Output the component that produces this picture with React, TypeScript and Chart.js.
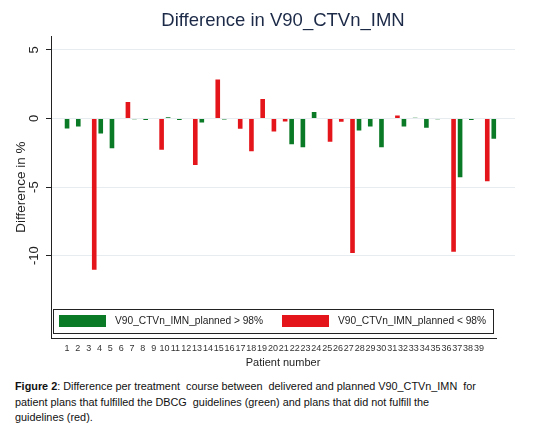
import React, { useEffect, useRef } from 'react';
import { Chart, registerables } from 'chart.js';

Chart.register(...registerables);

// patient numbers on the x axis
const patients = [
  1, 2, 3, 4, 5, 6, 7, 8, 9, 10, 11, 12, 13, 14, 15, 16, 17, 18, 19, 20,
  21, 22, 23, 24, 25, 26, 27, 28, 29, 30, 31, 32, 33, 34, 35, 36, 37, 38, 39,
];

// difference in % (delivered - planned); null where the patient is in the other group
const abovePlanned = [
  -0.72, -0.58, null, -1.09, -2.17, null, -0.06, -0.1, null, 0.1,
  -0.1, null, -0.29, null, -0.08, null, null, null, null, null,
  -1.88, -2.1, 0.48, null, null, null, -0.87, -0.58, -2.1, null,
  -0.58, 0.05, -0.68, -0.06, null, -4.29, -0.1, null, -1.47,
];
const belowPlanned = [
  null, null, -11.03, null, null, 1.21, null, null, -2.27, null,
  null, -3.38, null, 2.85, null, -0.75, -2.39, 1.43, -0.94, -0.22,
  null, null, null, -1.69, -0.24, -9.8, null, null, null, 0.22,
  null, null, null, null, -9.72, null, null, -4.58, null,
];

const yTicks = [-10, -5, 0, 5];

const GREEN = '#0b7a26';
const RED = '#e4161c';
const FONT = '"Liberation Sans", Arial, sans-serif';

const toPoints = (values: (number | null)[]) =>
  patients
    .map((p, i) => ({ x: p, y: values[i] }))
    .filter((d) => d.y !== null);

// Stata style legend box drawn inside the plot region
const legendBox = {
  id: 'legendBox',
  afterDraw(chart: any) {
    const { ctx, chartArea } = chart;
    const left = chartArea.left + 2;
    const right = chartArea.left + 442;
    const bottom = chartArea.bottom - 5;
    const top = bottom - 24;
    const mid = (top + bottom) / 2;
    ctx.save();
    ctx.fillStyle = '#ffffff';
    ctx.fillRect(left, top, right - left, bottom - top);
    ctx.strokeStyle = '#222';
    ctx.lineWidth = 1;
    ctx.strokeRect(left + 0.5, top + 0.5, right - left, bottom - top);
    ctx.font = `10.2px ${FONT}`;
    ctx.textBaseline = 'middle';
    ctx.textAlign = 'left';
    chart.data.datasets.forEach((ds: any, i: number) => {
      const x0 = left + 6 + i * 223;
      ctx.fillStyle = ds.backgroundColor;
      ctx.fillRect(x0, mid - 6, 47, 12);
      ctx.fillStyle = '#222';
      ctx.fillText(ds.label, x0 + 56, mid + 0.5);
    });
    ctx.restore();
  },
};

// bottom axis line, shorter than the grid like in the original
const axisLine = {
  id: 'axisLine',
  afterDraw(chart: any) {
    const { ctx, chartArea } = chart;
    const xl = chart.scales.xl;
    ctx.save();
    ctx.strokeStyle = '#222';
    ctx.lineWidth = 1;
    ctx.beginPath();
    ctx.moveTo(chartArea.left, chartArea.bottom + 0.5);
    ctx.lineTo(xl.getPixelForValue(40.67), chartArea.bottom + 0.5);
    ctx.stroke();
    ctx.restore();
  },
};

const DifferenceChart: React.FC = () => {
  const canvasRef = useRef<HTMLCanvasElement>(null);
  const chartRef = useRef<Chart | null>(null);

  useEffect(() => {
    if (!canvasRef.current) return;
    if (chartRef.current) chartRef.current.destroy();

    chartRef.current = new Chart(canvasRef.current, {
      type: 'bar',
      data: {
        datasets: [
          {
            label: 'V90_CTVn_IMN_planned > 98%',
            data: toPoints(abovePlanned) as any,
            backgroundColor: GREEN,
            categoryPercentage: 0.84,
            barPercentage: 0.98,
          },
          {
            label: 'V90_CTVn_IMN_planned < 98%',
            data: toPoints(belowPlanned) as any,
            backgroundColor: RED,
            categoryPercentage: 0.84,
            barPercentage: 0.98,
          },
        ],
      },
      options: {
        responsive: true,
        maintainAspectRatio: false,
        animation: false,
        layout: { padding: { left: 0, right: 26, top: 0, bottom: 0 } },
        plugins: {
          legend: { display: false },
          tooltip: { enabled: false },
          title: {
            display: true,
            text: 'Difference in V90_CTVn_IMN',
            fullSize: false,
            color: '#1c2a48',
            font: { family: FONT, size: 18.5, weight: 'normal' },
            padding: { top: 10, bottom: 4 },
          },
        },
        scales: {
          x: {
            type: 'linear',
            display: false,
            offset: false,
            min: -0.64,
            max: 40.68,
          },
          xl: {
            type: 'linear',
            position: 'bottom',
            offset: false,
            min: -0.476,
            max: 42.33,
            afterBuildTicks: (s: any) => {
              s.ticks = patients.map((p) => ({ value: p }));
            },
            afterFit: (s: any) => {
              s.height = 34;
            },
            grid: { display: false, drawTicks: false },
            border: { display: false },
            ticks: {
              autoSkip: false,
              maxRotation: 0,
              minRotation: 0,
              padding: 5,
              color: '#333',
              font: { family: FONT, size: 9 },
            },
            title: {
              display: true,
              text: 'Patient number',
              color: '#222',
              font: { family: FONT, size: 11 },
              padding: { top: 1, bottom: 2 },
            },
          },
          y: {
            min: -16,
            max: 6,
            afterBuildTicks: (s: any) => {
              s.ticks = yTicks.map((v) => ({ value: v }));
            },
            afterFit: (s: any) => {
              s.width = 51;
            },
            grid: {
              color: '#e6ecf0',
              tickColor: '#222',
              tickLength: 5,
            },
            border: { display: true, color: '#222', width: 1 },
            ticks: {
              minRotation: 90,
              maxRotation: 90,
              crossAlign: 'center',
              padding: 2,
              color: '#222',
              font: { family: FONT, size: 13 },
            },
            title: {
              display: true,
              text: 'Difference in %',
              color: '#222',
              font: { family: FONT, size: 13.5 },
              padding: { top: 13, bottom: 0 },
            },
          },
        },
      },
      plugins: [legendBox, axisLine],
    });

    return () => {
      if (chartRef.current) {
        chartRef.current.destroy();
        chartRef.current = null;
      }
    };
  }, []);

  return (
    <div style={{ position: 'relative', width: 541, height: 372 }}>
      <canvas ref={canvasRef} />
    </div>
  );
};

const App: React.FC = () => {
  return (
    <div
      style={{
        position: 'absolute',
        left: 0,
        top: 0,
        width: 541,
        height: 435,
        background: '#fff',
      }}
    >
      <DifferenceChart />
      <div
        style={{
          position: 'absolute',
          left: 15,
          top: 379,
          fontFamily: FONT,
          fontSize: 10.85,
          lineHeight: '15.5px',
          color: '#111',
          whiteSpace: 'pre',
        }}
      >
        <b>Figure 2</b>
        {': Difference per treatment  course between  delivered and planned V90_CTVn_IMN  for'}
        <br />
        {'patient plans that fulfilled the DBCG  guidelines (green) and plans that did not fulfill the'}
        <br />
        {'guidelines (red).'}
      </div>
    </div>
  );
};

export default App;
